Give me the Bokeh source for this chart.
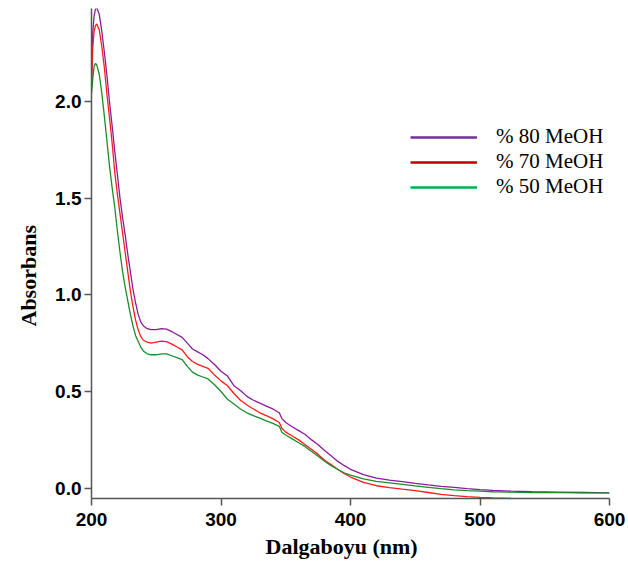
from bokeh.plotting import figure
from bokeh.models import Range1d, FixedTicker, Legend, LegendItem, NumeralTickFormatter, Title
from bokeh.embed import file_html
from bokeh.resources import INLINE

wavelength = [200, 201, 202, 203, 204, 206, 208, 210, 212, 214, 216, 218, 220, 222, 224, 226, 228, 230,
              232, 234, 236, 238, 240, 243, 246, 250, 254, 258, 262, 266, 270, 274, 278, 282, 286, 290,
              295, 300, 305, 310, 315, 320, 325, 330, 335, 340, 345, 347, 350, 355, 360, 365, 370, 375,
              380, 385, 390, 395, 400, 410, 420, 430, 440, 450, 460, 470, 480, 490, 500, 510, 524, 540,
              560, 580, 600]

meoh80 = [2.10, 2.36, 2.44, 2.475, 2.485, 2.45, 2.36, 2.25, 2.13, 1.99, 1.87, 1.74, 1.62, 1.50, 1.40, 1.31,
          1.21, 1.12, 1.03, 0.96, 0.90, 0.86, 0.84, 0.825, 0.82, 0.82, 0.825, 0.823, 0.81, 0.795, 0.78,
          0.75, 0.72, 0.705, 0.69, 0.67, 0.64, 0.605, 0.58, 0.53, 0.505, 0.475, 0.455, 0.44, 0.425, 0.41,
          0.39, 0.36, 0.34, 0.318, 0.298, 0.278, 0.25, 0.225, 0.195, 0.168, 0.14, 0.118, 0.098, 0.07,
          0.052, 0.042, 0.034, 0.025, 0.017, 0.010, 0.004, -0.002, -0.007, -0.011, -0.015, -0.018,
          -0.020, -0.022, -0.024]

wavelength70 = wavelength[:71]
meoh70 = [2.06, 2.28, 2.36, 2.39, 2.40, 2.37, 2.28, 2.17, 2.03, 1.91, 1.78, 1.63, 1.52, 1.42, 1.32, 1.22,
          1.12, 1.02, 0.94, 0.87, 0.82, 0.785, 0.765, 0.755, 0.75, 0.755, 0.76, 0.758, 0.745, 0.73, 0.715,
          0.68, 0.655, 0.64, 0.63, 0.62, 0.585, 0.555, 0.53, 0.49, 0.455, 0.43, 0.41, 0.39, 0.375, 0.36,
          0.34, 0.31, 0.29, 0.27, 0.25, 0.225, 0.20, 0.175, 0.145, 0.122, 0.098, 0.076, 0.058, 0.03,
          0.013, 0.003, -0.005, -0.012, -0.022, -0.032, -0.038, -0.043, -0.047, -0.05, -0.052]

meoh50 = [2.04, 2.12, 2.18, 2.195, 2.19, 2.14, 2.04, 1.92, 1.79, 1.66, 1.55, 1.45, 1.33, 1.22, 1.12, 1.04,
          0.97, 0.90, 0.84, 0.79, 0.76, 0.73, 0.71, 0.695, 0.69, 0.69, 0.695, 0.695, 0.685, 0.675, 0.665,
          0.63, 0.60, 0.585, 0.575, 0.565, 0.535, 0.50, 0.46, 0.435, 0.41, 0.39, 0.375, 0.362, 0.348,
          0.335, 0.32, 0.29, 0.275, 0.255, 0.235, 0.215, 0.19, 0.165, 0.14, 0.117, 0.098, 0.08, 0.068,
          0.048, 0.036, 0.028, 0.02, 0.012, 0.005, -0.002, -0.008, -0.012, -0.015, -0.018, -0.02, -0.022,
          -0.023, -0.024, -0.024]

series_labels = ["% 80 MeOH", "% 70 MeOH", "% 50 MeOH"]
x_title = "Dalgaboyu (nm)"
y_title = "Absorbans"
x_ticks = [200, 300, 400, 500, 600]
y_ticks = [0.0, 0.5, 1.0, 1.5, 2.0]

p = figure(width=628, height=572, output_backend="svg", toolbar_location=None,
           x_range=Range1d(200, 600), y_range=Range1d(-0.053, 2.48),
           min_border_left=91, min_border_right=19, min_border_top=8, min_border_bottom=74)
p.outline_line_color = None
p.xgrid.visible = False
p.ygrid.visible = False

p.line(wavelength, meoh80, line_color="#8B1A9B", line_width=1.3)
p.line(wavelength70, meoh70, line_color="#FF1A1A", line_width=1.3)
p.line(wavelength, meoh50, line_color="#1A8C2A", line_width=1.3)

# legend swatches (no data, only for the key)
nan = float("nan")
l80 = p.line([nan], [nan], line_color="#7030A0", line_width=2.5)
l70 = p.line([nan], [nan], line_color="#C00000", line_width=2.5)
l50 = p.line([nan], [nan], line_color="#00B050", line_width=2.5)
legend = Legend(items=[LegendItem(label=series_labels[0], renderers=[l80]),
                       LegendItem(label=series_labels[1], renderers=[l70]),
                       LegendItem(label=series_labels[2], renderers=[l50])],
                location=(319, 299), padding=0, margin=0, spacing=0,
                glyph_width=67, glyph_height=20, label_height=20, label_standoff=19,
                label_text_font="Liberation Serif", label_text_font_size="21px",
                label_text_baseline="middle",
                label_text_color="#000000", border_line_color=None, background_fill_alpha=0)
p.add_layout(legend, "center")

for ax in (p.xaxis, p.yaxis):
    ax.axis_line_color = "#555555"
    ax.axis_line_width = 1.5
    ax.major_tick_line_color = "#555555"
    ax.major_tick_line_width = 1.5
    ax.major_tick_in = 0
    ax.major_tick_out = 7
    ax.minor_tick_line_color = None
    ax.major_label_text_font = "Liberation Sans"
    ax.major_label_text_font_style = "bold"
    ax.major_label_text_font_size = "19px"
    ax.major_label_text_color = "#000000"

p.xaxis.ticker = FixedTicker(ticks=x_ticks)
p.yaxis.ticker = FixedTicker(ticks=y_ticks)
p.yaxis.formatter = NumeralTickFormatter(format="0.0")
p.xaxis.major_label_standoff = 7
p.yaxis.major_label_standoff = 3

p.add_layout(Title(text=y_title, align="left", offset=172, standoff=20, vertical_align="top",
                   text_font="Liberation Serif", text_font_style="bold", text_font_size="22px",
                   text_color="#000000"), "left")
p.add_layout(Title(text=x_title, align="left", offset=174, standoff=6,
                   text_font="Liberation Serif", text_font_style="bold", text_font_size="22px",
                   text_color="#000000"), "below")

open("out.html", "w").write(file_html(p, INLINE))
